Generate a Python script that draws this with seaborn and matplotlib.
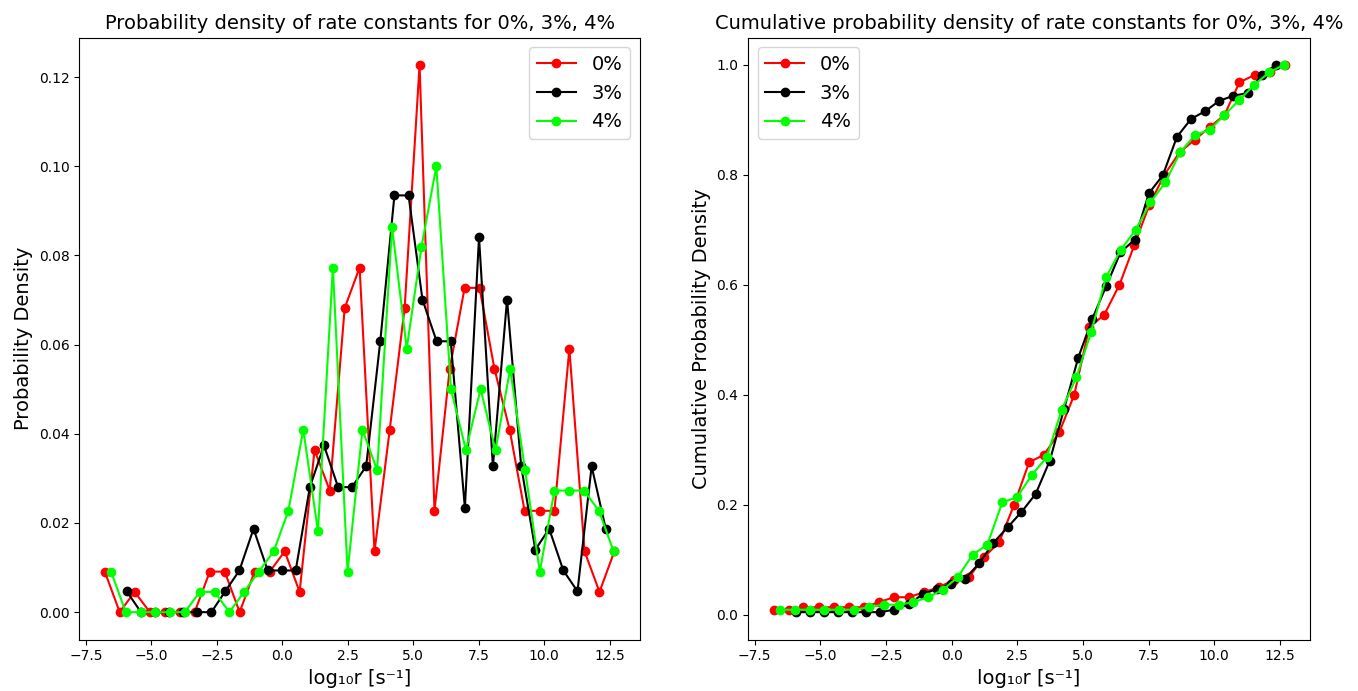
import numpy as np
import matplotlib
matplotlib.use("Agg")
import matplotlib.pyplot as plt
import seaborn as sns

# Series labels and colours
labels = ["0%", "3%", "4%"]
colors = ["red", "black", "lime"]

# Bin centres (log10 of rate constant) for each concentration
x_0 = [-6.78, -6.21, -5.64, -5.06, -4.49, -3.92, -3.35, -2.77, -2.20, -1.63,
       -1.06, -0.48, 0.09, 0.66, 1.23, 1.81, 2.38, 2.95, 3.52, 4.10,
       4.67, 5.24, 5.81, 6.39, 6.96, 7.53, 8.10, 8.68, 9.25, 9.82,
       10.39, 10.96, 11.54, 12.11, 12.68]
x_3 = [-5.94, -5.40, -4.86, -4.33, -3.79, -3.25, -2.71, -2.18, -1.64, -1.10,
       -0.56, -0.02, 0.51, 1.05, 1.59, 2.13, 2.66, 3.20, 3.74, 4.28,
       4.82, 5.35, 5.89, 6.43, 6.97, 7.51, 8.04, 8.58, 9.12, 9.66,
       10.19, 10.73, 11.27, 11.81, 12.35]
x_4 = [-6.54, -5.98, -5.41, -4.85, -4.28, -3.72, -3.15, -2.59, -2.02, -1.46,
       -0.90, -0.33, 0.23, 0.80, 1.36, 1.93, 2.49, 3.06, 3.62, 4.19,
       4.75, 5.31, 5.88, 6.44, 7.01, 7.57, 8.14, 8.70, 9.27, 9.83,
       10.39, 10.96, 11.52, 12.09, 12.65]

# Number of rate constants falling in each bin
counts_0 = [2, 0, 1, 0, 0, 0, 0, 2, 2, 0, 2, 2, 3, 1, 8, 6, 15, 17, 3, 9,
            15, 27, 5, 12, 16, 16, 12, 9, 5, 5, 5, 13, 3, 1, 3]
counts_3 = [1, 0, 0, 0, 0, 0, 0, 1, 2, 4, 2, 2, 2, 6, 8, 6, 6, 7, 13, 20,
            20, 15, 13, 13, 5, 18, 7, 15, 7, 3, 4, 2, 1, 7, 4]
counts_4 = [2, 0, 0, 0, 0, 0, 1, 1, 0, 1, 2, 3, 5, 9, 4, 17, 2, 9, 7, 19,
            13, 18, 22, 11, 8, 11, 8, 12, 7, 2, 6, 6, 6, 5, 3]

xs = [x_0, x_3, x_4]
counts = [counts_0, counts_3, counts_4]

fig = plt.figure(figsize=(13.58, 6.91), dpi=100)
ax1 = fig.add_axes([0.0584, 0.0745, 0.4128, 0.8712])
ax2 = fig.add_axes([0.5508, 0.0745, 0.4140, 0.8712])

line_kw = dict(marker="o", markersize=6, linewidth=1.5, markeredgewidth=1)

for x, c, lab, col in zip(xs, counts, labels, colors):
    density = np.asarray(c, dtype=float) / np.sum(c)
    cumulative = np.cumsum(density)
    sns.lineplot(x=x, y=density, ax=ax1, color=col, markeredgecolor=col,
                 label=lab, legend=False, **line_kw)
    sns.lineplot(x=x, y=cumulative, ax=ax2, color=col, markeredgecolor=col,
                 label=lab, legend=False, **line_kw)

ax1.set_title("Probability density of rate constants for 0%, 3%, 4%", fontsize=14)
ax1.set_xlabel("log₁₀r [s⁻¹]", fontsize=14)
ax1.set_ylabel("Probability Density", fontsize=14)
ax1.legend(loc="upper right", fontsize=14)

ax2.set_title("Cumulative probability density of rate constants for 0%, 3%, 4%", fontsize=14)
ax2.set_xlabel("log₁₀r [s⁻¹]", fontsize=14)
ax2.set_ylabel("Cumulative Probability Density", fontsize=14)
ax2.legend(loc="upper left", fontsize=14)

fig.savefig("out.png", dpi=100)
